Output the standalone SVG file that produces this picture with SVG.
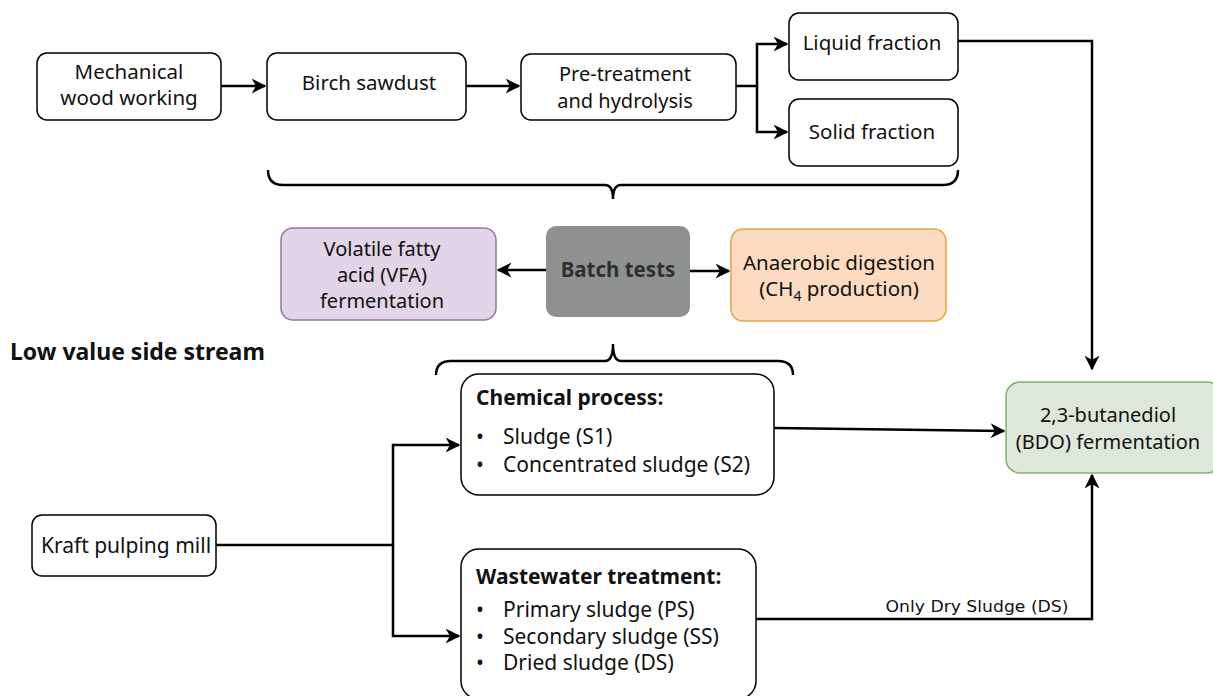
<svg xmlns="http://www.w3.org/2000/svg" width="1213" height="696" viewBox="0 0 1213 696">
<defs>
<marker id="arr" viewBox="0 0 10 10" refX="9" refY="5" markerWidth="6" markerHeight="6" orient="auto" markerUnits="strokeWidth">
<path d="M0,0 L10,5 L0,10 L3,5 Z" fill="#000"/>
</marker>
<style>
.box{fill:#fff;stroke:#000;stroke-width:1.5}
.t{font-family:"Noto Sans","Open Sans","DejaVu Sans",sans-serif;font-size:20.5px;fill:#111;text-anchor:middle}
.tl{font-family:"Noto Sans","Open Sans","DejaVu Sans",sans-serif;font-size:21px;fill:#111}
.b{font-weight:bold}
.c{fill:none;stroke:#000;stroke-width:2.5}
.br{fill:none;stroke:#000;stroke-width:2.5}
</style>
</defs>
<rect width="1213" height="696" fill="#fff"/>

<g id="mech"><rect class="box" x="37" y="53" width="184" height="67" rx="10"/>
<text class="t" x="129" y="79">Mechanical</text><text class="t" x="129" y="105">wood working</text></g>
<g id="birch"><rect class="box" x="267" y="53" width="199" height="67" rx="10"/>
<text class="t" x="369" y="90">Birch sawdust</text></g>
<g id="pretreat"><rect class="box" x="521" y="54" width="215" height="66" rx="10"/>
<text class="t" x="625" y="81" style="font-size:20px">Pre-treatment</text><text class="t" x="625" y="108" style="font-size:20px">and hydrolysis</text></g>
<g id="liquid"><rect class="box" x="789" y="13" width="169" height="67" rx="10"/>
<text class="t" x="872" y="50">Liquid fraction</text></g>
<g id="solid"><rect class="box" x="789" y="99" width="169" height="67" rx="10"/>
<text class="t" x="872" y="139">Solid fraction</text></g>

<g id="vfa"><rect x="281" y="228" width="215" height="92" rx="12" fill="#e1d5e7" stroke="#9673a6" stroke-width="1.5"/>
<text class="t" x="382" y="256" style="font-size:20px">Volatile fatty</text><text class="t" x="382" y="282" style="font-size:20px">acid (VFA)</text><text class="t" x="382" y="308" style="font-size:20px">fermentation</text></g>
<g id="batch"><rect x="546" y="226" width="144" height="91" rx="10" fill="#8e9190"/>
<text class="t b" x="618" y="277" style="fill:#2e3030">Batch tests</text></g>
<g id="ad"><rect x="731" y="229" width="215" height="92" rx="12" fill="#fddbc0" stroke="#e8a33c" stroke-width="1.5"/>
<text class="t" x="839" y="270">Anaerobic digestion</text><text class="t" x="839" y="296">(CH<tspan font-size="14" dy="5">4</tspan><tspan dy="-5"> production)</tspan></text></g>

<g id="label"><text class="tl b" x="10" y="360" style="font-size:23px">Low value side stream</text></g>

<g id="chem"><rect class="box" x="461" y="374" width="313" height="121" rx="18"/>
<text class="tl b" x="476" y="405">Chemical process:</text>
<text class="tl" x="476" y="444">•</text><text class="tl" x="503" y="444">Sludge (S1)</text>
<text class="tl" x="476" y="472">•</text><text class="tl" x="503" y="472">Concentrated sludge (S2)</text></g>
<g id="ww"><rect class="box" x="461" y="549" width="295" height="150" rx="18"/>
<text class="tl b" x="476" y="584">Wastewater treatment:</text>
<text class="tl" x="476" y="617">•</text><text class="tl" x="503" y="617">Primary sludge (PS)</text>
<text class="tl" x="476" y="644">•</text><text class="tl" x="503" y="644">Secondary sludge (SS)</text>
<text class="tl" x="476" y="670">•</text><text class="tl" x="503" y="670">Dried sludge (DS)</text></g>
<g id="kraft"><rect class="box" x="32" y="515" width="184" height="61" rx="10"/>
<text class="t" x="126" y="553" style="font-size:21px">Kraft pulping mill</text></g>
<g id="bdo"><rect x="1006" y="382" width="215" height="91" rx="14" fill="#dde7da" stroke="#82b366" stroke-width="1.5"/>
<text class="t" x="1108" y="422" style="font-size:20px">2,3-butanediol</text><text class="t" x="1108" y="449" style="font-size:20px">(BDO) fermentation</text></g>

<g id="braces">
<path class="br" d="M268,170 Q268,185 283,185 L605,185 Q613,185 613,199 Q613,185 621,185 L943,185 Q958,185 958,170"/>
<path class="br" d="M436,375 Q436,361 451,361 L605,361 Q613,361 613,344 Q613,361 621,361 L778,361 Q793,361 793,375"/>
</g>

<g id="connectors">
<path class="c" d="M221,86 L265,86" marker-end="url(#arr)"/>
<path class="c" d="M466,86 L519,86" marker-end="url(#arr)"/>
<path class="c" d="M736,86 L757,86 L757,44 L787,44" marker-end="url(#arr)"/>
<path class="c" d="M757,86 L757,132 L787,132" marker-end="url(#arr)"/>
<path class="c" d="M958,41 L1092,41 L1092,369" marker-end="url(#arr)"/>
<path class="c" d="M546,270 L498,270" marker-end="url(#arr)"/>
<path class="c" d="M690,271 L729,271" marker-end="url(#arr)"/>
<path class="c" d="M216,545 L393,545 L393,445 L459,445" marker-end="url(#arr)"/>
<path class="c" d="M393,545 L393,636 L459,636" marker-end="url(#arr)"/>
<path class="c" d="M774,428 L1004,431" marker-end="url(#arr)"/>
<path class="c" d="M756,619 L1092,619 L1092,475" marker-end="url(#arr)"/>
<text x="977" y="612" font-family="'DejaVu Sans',Verdana,sans-serif" font-size="16" textLength="183" lengthAdjust="spacingAndGlyphs" text-anchor="middle" fill="#111">Only Dry Sludge (DS)</text>
</g>
</svg>
